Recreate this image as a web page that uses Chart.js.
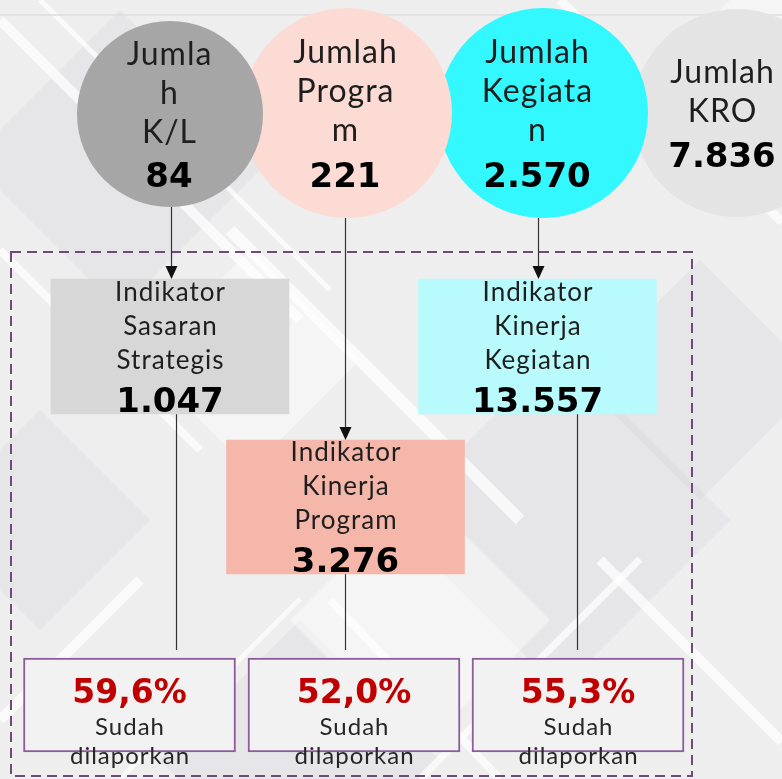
<!DOCTYPE html>
<html>
<head>
<meta charset="utf-8">
<title>Jumlah K/L, Program, Kegiatan, KRO</title>
<script src="https://cdn.jsdelivr.net/npm/chart.js@4.4.1/dist/chart.umd.min.js"></script>
<style>
    html, body { margin: 0; padding: 0; background: #ededee; }
    #wrap { width: 782px; height: 779px; }
</style>
</head>
<body>
<div id="wrap"><canvas id="infographic" width="782" height="779"></canvas></div>
<script>
// ---- data ----
const circleLabels = [['Jumla', 'h', 'K/L'], ['Jumlah', 'Progra', 'm'], ['Jumlah', 'Kegiata', 'n'], ['Jumlah', 'KRO']];
const circleValues = [84, 221, 2570, 7836];
const indicatorLabels = [['Indikator', 'Sasaran', 'Strategis'], ['Indikator', 'Kinerja', 'Program'], ['Indikator', 'Kinerja', 'Kegiatan']];
const indicatorValues = [1047, 3276, 13557];
const reportedPct = [59.6, 52.0, 55.3];
const reportedLabel = ['Sudah', 'dilaporkan'];

// ---- layout (units of the hidden scales, 1 unit = 1px) ----
const circleLayout = [
    { x: 170, y: 114, r: 93,  tx: 169, line0: 65, num: 187, color: '#a6a6a6' },
    { x: 347, y: 113, r: 105, tx: 345, line0: 63, num: 187, color: '#fbdbd4' },
    { x: 543, y: 113, r: 105, tx: 537, line0: 63, num: 187, color: '#33f8ff' },
    { x: 737, y: 113, r: 104, tx: 722, line0: 83, num: 167, color: '#e4e4e4' }
];
const boxLayout = [
    { x: 170, top: 279, bottom: 414, line0: 301, num: 412, color: '#d7d7d7' },
    { x: 345.5, top: 440, bottom: 574, line0: 461, num: 572, color: '#f4b7aa' },
    { x: 537.5, top: 279, bottom: 414, line0: 301, num: 412, color: '#b9fbfc' }
];
const reportLayout = [
    { x: 129.5, top: 658, bottom: 752 },
    { x: 354, top: 658, bottom: 752 },
    { x: 578, top: 658, bottom: 752 }
];
// arrows from circles to boxes, plain lines from boxes to report boxes
const arrowLinks = [
    { x: 170.5, from: 207, to: 279 },
    { x: 345, from: 218, to: 440 },
    { x: 538, from: 218, to: 279 }
];
const plainLinks = [
    { x: 176, from: 414, to: 658 },
    { x: 345, from: 574, to: 658 },
    { x: 577, from: 414, to: 658 }
];
const frame = { left: 11, top: 252, right: 692, bottom: 776 };

const LIGHT = '400 {s}px Lato, "Open Sans", sans-serif';
const BOLD = 'bold {s}px "DejaVu Sans", Verdana, sans-serif';

function fmtInt(v) {
    return String(v).replace(/\B(?=(\d{3})+(?!\d))/g, '.');
}
function fmtPct(v) {
    return v.toFixed(1).replace('.', ',') + '%';
}
function font(tpl, size) {
    return tpl.replace('{s}', size);
}

function drawText(ctx, text, x, y, f, color, spacing) {
    ctx.font = f;
    ctx.fillStyle = color;
    ctx.letterSpacing = (spacing || 0) + 'px';
    ctx.textAlign = 'center';
    ctx.textBaseline = 'alphabetic';
    ctx.fillText(text, x + (spacing || 0) / 2, y);
    ctx.letterSpacing = '0px';
}

function diamond(ctx, cx, cy, h) {
    ctx.beginPath();
    ctx.moveTo(cx, cy - h);
    ctx.lineTo(cx + h, cy);
    ctx.lineTo(cx, cy + h);
    ctx.lineTo(cx - h, cy);
    ctx.closePath();
    ctx.fill();
}

// background texture: diagonal white bands and soft diamonds
const backdrop = {
    id: 'backdrop',
    beforeDraw(chart) {
        const { ctx, width, height } = chart;
        ctx.save();
        ctx.fillStyle = '#eeeeef';
        ctx.fillRect(0, 0, width, height);

        ctx.fillStyle = 'rgba(205,205,209,0.22)';
        [[120, 160, 150], [560, 520, 170], [300, 760, 140], [700, 380, 120], [40, 520, 110]]
            .forEach(d => diamond(ctx, d[0], d[1], d[2]));

        ctx.fillStyle = 'rgba(252,252,252,0.5)';
        [[420, 620, 130], [760, 90, 120], [250, 360, 110]]
            .forEach(d => diamond(ctx, d[0], d[1], d[2]));

        ctx.strokeStyle = 'rgba(255,255,255,0.7)';
        ctx.lineCap = 'butt';
        [
            [0, 20, 300, 320, 10], [40, 0, 330, 290, 5], [0, 250, 200, 450, 8],
            [230, 230, 520, 520, 12], [560, 0, 782, 222, 9], [600, 560, 782, 742, 10],
            [330, 600, 500, 779, 8], [0, 720, 140, 580, 10], [700, 200, 782, 118, 7],
            [420, 779, 640, 559, 7], [120, 779, 300, 599, 5]
        ].forEach(s => {
            ctx.lineWidth = s[4];
            ctx.beginPath();
            ctx.moveTo(s[0], s[1]);
            ctx.lineTo(s[2], s[3]);
            ctx.stroke();
        });

        // thin top rule
        ctx.strokeStyle = '#dcdcde';
        ctx.lineWidth = 1.5;
        ctx.beginPath();
        ctx.moveTo(0, 15);
        ctx.lineTo(width, 15);
        ctx.stroke();
        ctx.restore();
    }
};

// dashed frame and connectors, behind the marks
const connectors = {
    id: 'connectors',
    beforeDatasetsDraw(chart) {
        const { ctx } = chart;
        const sx = chart.scales.x, sy = chart.scales.y;
        ctx.save();

        ctx.strokeStyle = '#6f4a7a';
        ctx.lineWidth = 2;
        ctx.setLineDash([10, 6]);
        ctx.strokeRect(sx.getPixelForValue(frame.left), sy.getPixelForValue(frame.top),
            sx.getPixelForValue(frame.right) - sx.getPixelForValue(frame.left),
            sy.getPixelForValue(frame.bottom) - sy.getPixelForValue(frame.top));
        ctx.setLineDash([]);

        ctx.strokeStyle = '#333333';
        ctx.lineWidth = 1.2;
        plainLinks.concat(arrowLinks).forEach(l => {
            const x = Math.round(sx.getPixelForValue(l.x)) + 0.5;
            ctx.beginPath();
            ctx.moveTo(x, sy.getPixelForValue(l.from));
            ctx.lineTo(x, sy.getPixelForValue(l.to) - 8);
            ctx.stroke();
        });
        ctx.restore();
    },
    afterDatasetsDraw(chart) {
        const { ctx } = chart;
        const sx = chart.scales.x, sy = chart.scales.y;
        ctx.save();
        ctx.fillStyle = '#111111';
        arrowLinks.forEach(l => {
            const x = Math.round(sx.getPixelForValue(l.x)) + 0.5;
            const tip = sy.getPixelForValue(l.to);
            ctx.beginPath();
            ctx.moveTo(x, tip);
            ctx.lineTo(x - 6, tip - 13);
            ctx.lineTo(x + 6, tip - 13);
            ctx.closePath();
            ctx.fill();
        });
        ctx.restore();
    }
};

// all labels and values
const labels = {
    id: 'labels',
    afterDatasetsDraw(chart) {
        const { ctx } = chart;
        const sx = chart.scales.x, sy = chart.scales.y;
        ctx.save();

        circleLayout.forEach((c, i) => {
            const x = sx.getPixelForValue(c.tx);
            circleLabels[i].forEach((t, k) => {
                drawText(ctx, t, x, sy.getPixelForValue(c.line0 + k * 39), font(LIGHT, 32), '#1e1e1e', 1);
            });
            drawText(ctx, fmtInt(circleValues[i]), x, sy.getPixelForValue(c.num), font(BOLD, 34), '#000000', 0);
        });

        boxLayout.forEach((b, i) => {
            const x = sx.getPixelForValue(b.x);
            indicatorLabels[i].forEach((t, k) => {
                drawText(ctx, t, x, sy.getPixelForValue(b.line0 + k * 34), font(LIGHT, 26), '#1e1e1e', 1);
            });
            drawText(ctx, fmtInt(indicatorValues[i]), x, sy.getPixelForValue(b.num), font(BOLD, 34), '#000000', 0);
        });

        reportLayout.forEach((b, i) => {
            const x = sx.getPixelForValue(b.x);
            drawText(ctx, fmtPct(reportedPct[i]), x, sy.getPixelForValue(703), font(BOLD, 33), '#c00000', 0);
            drawText(ctx, reportedLabel[0], x, sy.getPixelForValue(735), font(LIGHT, 24), '#262626', 1);
            drawText(ctx, reportedLabel[1], x, sy.getPixelForValue(764), font(LIGHT, 24), '#262626', 1);
        });
        ctx.restore();
    }
};

// circles drawn last-to-first so the left ones sit on top
const circlePoints = circleLayout.map((c, i) => ({ x: c.x, y: c.y, r: c.r, v: circleValues[i] })).reverse();
const circleColors = circleLayout.map(c => c.color).reverse();

const ctx = document.getElementById('infographic').getContext('2d');
const chart = new Chart(ctx, {
    type: 'bubble',
    data: {
        datasets: [
            {
                type: 'bar',
                label: 'Persentase sudah dilaporkan',
                data: reportedPct.map((v, i) => ({ x: reportLayout[i].x, y: [reportLayout[i].top, reportLayout[i].bottom], v: v })),
                backgroundColor: '#f2f2f3',
                borderColor: '#8c5c9c',
                borderWidth: 2,
                borderSkipped: false,
                barThickness: 212,
                grouped: false,
                clip: false
            },
            {
                type: 'bar',
                label: 'Indikator',
                data: indicatorValues.map((v, i) => ({ x: boxLayout[i].x, y: [boxLayout[i].top, boxLayout[i].bottom], v: v })),
                backgroundColor: boxLayout.map(b => b.color),
                borderWidth: 0,
                barThickness: 238,
                grouped: false,
                clip: false
            },
            {
                label: 'Jumlah',
                data: circlePoints,
                backgroundColor: circleColors,
                borderWidth: 0,
                hoverRadius: 0,
                clip: false
            }
        ]
    },
    options: {
        responsive: false,
        devicePixelRatio: 1,
        animation: false,
        events: [],
        layout: { padding: 0, autoPadding: false },
        plugins: {
            legend: { display: false },
            tooltip: { enabled: false },
            title: { display: false }
        },
        scales: {
            x: { type: 'linear', min: 0, max: 782, offset: false, display: false },
            y: { type: 'linear', min: 0, max: 779, reverse: true, display: false }
        }
    },
    plugins: [backdrop, connectors, labels]
});
</script>
</body>
</html>
